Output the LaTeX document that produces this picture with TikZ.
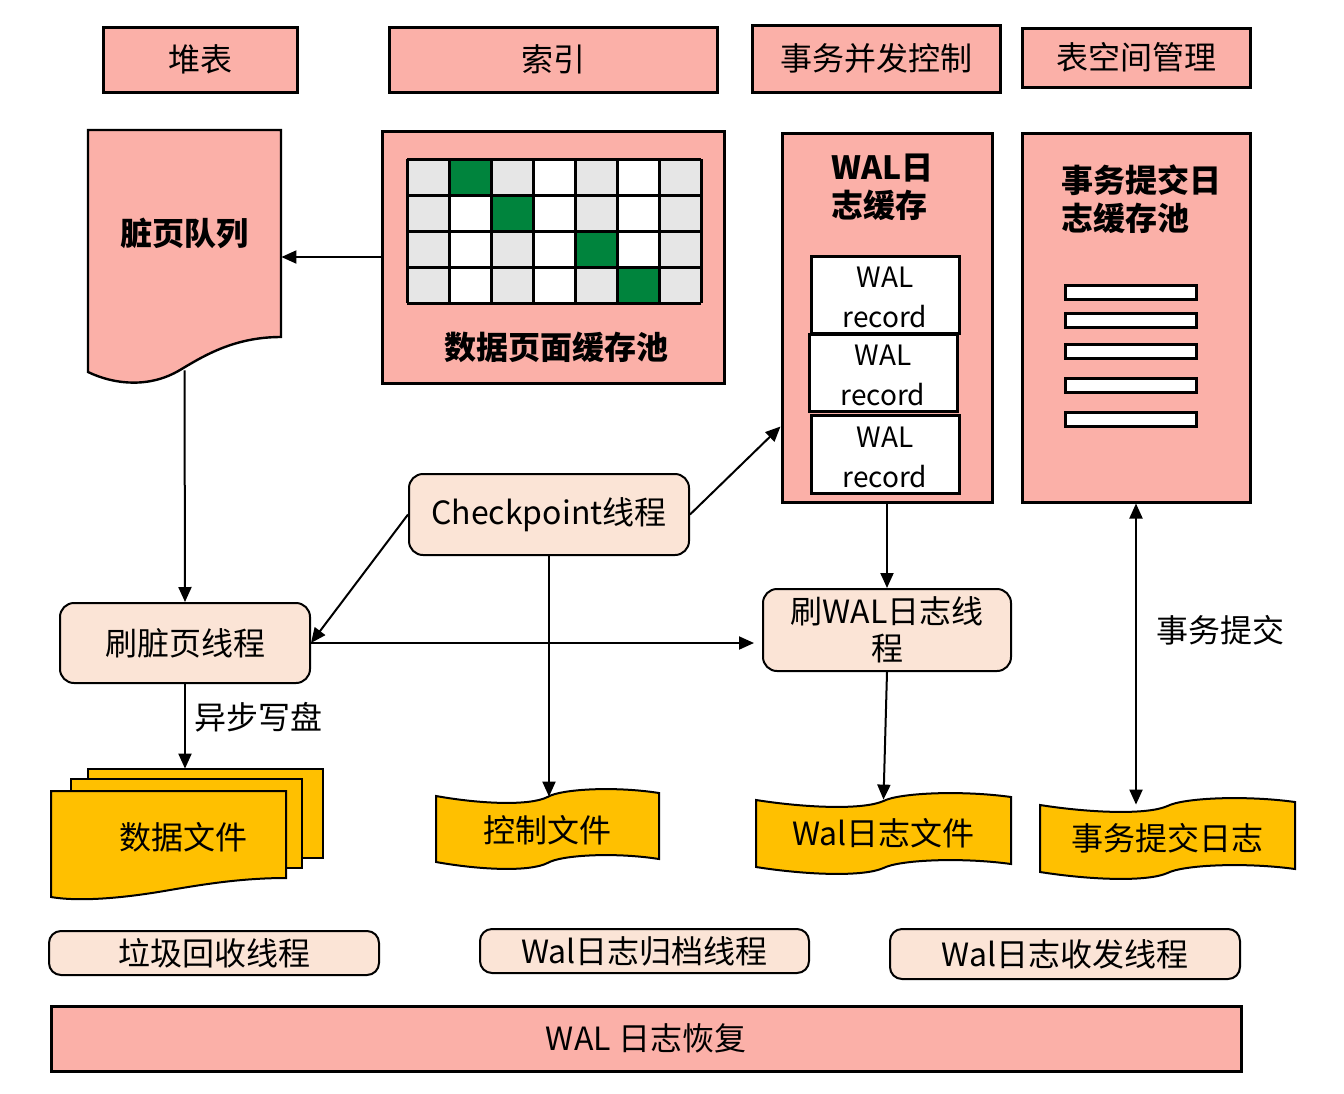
\documentclass[tikz,border=0pt]{standalone}
\usepackage{fontspec}
\setmainfont{Noto Sans CJK SC}
\usetikzlibrary{arrows.meta,fit}
\definecolor{pinkf}{RGB}{251,176,168}
\definecolor{peach}{RGB}{251,228,214}
\definecolor{gold}{RGB}{255,192,0}
\definecolor{gridgray}{RGB}{230,230,230}
\definecolor{cellgreen}{RGB}{0,132,61}
\newcommand\tapepath[4]{(#1,#2) .. controls ({#1+0.2*#3},{#2+8}) and ({#1+0.42*#3},{#2+10}) .. ({#1+0.5*#3},{#2+1}) .. controls ({#1+0.56*#3},{#2-7}) and ({#1+0.8*#3},{#2-10}) .. ({#1+#3},{#2-3}) -- ({#1+#3},{#2+#4-3}) .. controls ({#1+0.8*#3},{#2+#4-10}) and ({#1+0.56*#3},{#2+#4-7}) .. ({#1+0.5*#3},{#2+#4+1}) .. controls ({#1+0.42*#3},{#2+#4+10}) and ({#1+0.2*#3},{#2+#4+8}) .. (#1,{#2+#4}) -- cycle}
\tikzset{
 pinkbox/.style={draw, line width=1.5pt, fill=pinkf, inner sep=0pt},
 thread/.style={draw, line width=1pt, fill=peach, rounded corners=6pt, inner sep=0pt},
 ghost/.style={inner sep=0pt},
 big/.style={font=\fontsize{16}{18.5}\selectfont, align=center, inner sep=0pt},
 bigb/.style={font=\fontsize{16}{19}\selectfont\bfseries, align=left, inner sep=0pt},
 rec/.style={draw, line width=1.5pt, fill=white, inner sep=0pt},
 rect/.style={font=\fontsize{14}{20}\selectfont, align=center, inner sep=0pt},
 goldshape/.style={draw, line width=1pt, fill=gold},
 pinkshape/.style={draw, line width=1.2pt, fill=pinkf},
 bar/.style={draw, line width=1.5pt, fill=white},
 conn/.style={line width=1pt, -{Triangle[length=7.5pt,width=6.5pt]}},
 dconn/.style={line width=1pt, {Triangle[length=7.5pt,width=6.5pt]}-{Triangle[length=7.5pt,width=6.5pt]}}
}
\begin{document}
\begin{tikzpicture}[x=0.5pt,y=-0.5pt]
\useasboundingbox[fill=white] (0,0) rectangle (1344,1093);

% top row
\node[pinkbox, fit={(103,27)(297,92)}] (heap) {};
\node[big] (heapt) at (heap.center) {堆表};
\node[pinkbox, fit={(389,27)(717,92)}] (index) {};
\node[big] (indext) at (index.center) {索引};
\node[pinkbox, fit={(752,25)(1000,92)}] (txctl) {};
\node[big] (txctlt) at (txctl.center) {事务并发控制};
\node[pinkbox, fit={(1022,28)(1250,87)}] (space) {};
\node[big] (spacet) at (space.center) {表空间管理};

% dirty page queue (document shape)
\draw[pinkshape] (88,130) -- (281,130) -- (281,337) .. controls (235,337) and (205,355) .. (180,370) .. controls (150,388) and (115,385) .. (88,372) -- cycle;
\node[ghost, fit={(88,130)(281,336)}] (dirty) {};
\node[bigb] (dirtyt) at (dirty.center) {脏页队列};

% data page buffer pool
\node[pinkbox, fit={(382,131)(724,383)}] (pool) {};
\fill[gridgray] (407,159) rectangle (701,303);
\foreach \c in {1,3,5} \fill[white] ({407+42*\c},159) rectangle ({449+42*\c},303);
\fill[cellgreen] (449,159) rectangle (491,195);
\fill[cellgreen] (491,195) rectangle (533,231);
\fill[cellgreen] (575,231) rectangle (617,267);
\fill[cellgreen] (617,267) rectangle (659,303);
\foreach \c in {0,...,7} \draw[line width=1.5pt] ({407+42*\c},159) -- ({407+42*\c},303);
\foreach \r in {0,...,4} \draw[line width=1.5pt] (407,{159+36*\r}) -- (701,{159+36*\r});
\node[bigb] (pooltitle) at (556,347) {数据页面缓存池};

% WAL buffer
\node[pinkbox, fit={(782,133)(992,502)}] (walbuf) {};
\node[bigb, anchor=west] (walbuftitle) at (831,187) {WAL日\\志缓存};
\node[rec, fit={(811,256)(959,333)}] (rec1) {};
\node[rect] (rec1t) at ([yshift=-1.5pt]rec1.center) {WAL\\record};
\node[rec, fit={(809,334)(957,411)}] (rec2) {};
\node[rect] (rec2t) at ([yshift=-1.5pt]rec2.center) {WAL\\record};
\node[rec, fit={(811,415)(959,493)}] (rec3) {};
\node[rect] (rec3t) at ([yshift=-1.5pt]rec3.center) {WAL\\record};

% transaction commit log buffer pool
\node[pinkbox, fit={(1022,133)(1250,502)}] (txpool) {};
\node[bigb, anchor=west] (txpooltitle) at (1061,199) {事务提交日\\志缓存池};
\foreach \yy in {285,313,344,378,412}
  \draw[bar] (1065,\yy) rectangle (1196,{\yy+14});

% threads
\node[thread, rounded corners=7pt, fit={(409,474)(689,555)}] (ckpt) {};
\node[big] (ckptt) at (ckpt.center) {Checkpoint线程};
\node[thread, rounded corners=7pt, fit={(60,603)(310,683)}] (flush) {};
\node[big] (flusht) at (flush.center) {刷脏页线程};
\node[thread, rounded corners=7pt, fit={(763,589)(1011,671)}] (walthread) {};
\node[big] (walthreadt) at (walthread.center) {刷WAL日志线\\程};

% data files (multi-document)
\draw[goldshape] (88,769) rectangle (323,858);
\draw[goldshape] (71,779) rectangle (302,868);
\draw[goldshape] (51,791) -- (286,791) -- (286,878) .. controls (240,878) and (200,885) .. (170,890) .. controls (125,898) and (80,902) .. (51,897) -- cycle;
\node[ghost, fit={(51,769)(316,905)}] (datafile) {};
\node[big] (datafilet) at (datafile.center) {数据文件};

% tapes
\draw[goldshape] \tapepath{436}{796}{223}{66};
\node[ghost, fit={(436,797)(659,863)}] (ctrlfile) {};
\node[big] (ctrlfilet) at (ctrlfile.center) {控制文件};
\draw[goldshape] \tapepath{756}{800}{255}{67};
\node[ghost, fit={(756,800)(1011,866)}] (walfile) {};
\node[big] (walfilet) at (walfile.center) {Wal日志文件};
\draw[goldshape] \tapepath{1040}{805}{255}{67};
\node[ghost, fit={(1040,805)(1295,871)}] (txlog) {};
\node[big] (txlogt) at (txlog.center) {事务提交日志};

% bottom rows
\node[thread, fit={(49,931)(379,975)}] (gc) {};
\node[big] (gct) at (gc.center) {垃圾回收线程};
\node[thread, fit={(480,929)(809,973)}] (archive) {};
\node[big] (archivet) at (archive.center) {Wal日志归档线程};
\node[thread, fit={(890,929)(1240,979)}] (sender) {};
\node[big] (sendert) at (sender.center) {Wal日志收发线程};
\node[pinkbox, fit={(51,1006)(1241,1071)}] (recovery) {};
\node[big] (recoveryt) at (recovery.center) {WAL 日志恢复};

% connectors
\draw[conn] (pool.west) -- (pool.west -| dirty.east);
\draw[conn] ([yshift=-17pt]dirty.south) -- (flush.north);
\draw[conn] (ckpt.west) -- (flush.east);
\draw[conn] (ckpt.east) -- ([yshift=38.5pt]walbuf.south west);
\draw[conn] (ckpt.south) -- (ckpt.south |- ctrlfile.north);
\draw[conn] (flush.east) -- ([xshift=-4pt]walthread.west |- flush.east);
\draw[conn] (walbuf.south) -- (walthread.north);
\draw[conn] (walthread.south) -- (walfile.north);
\draw[conn] (flush.south) -- (flush.south |- datafile.north);
\draw[dconn] (txpool.south) -- (txpool.south |- txlog.north);

% labels
\node[big, anchor=west] (asynclabel) at (194,717) {异步写盘};
\node[big] (commitlabel) at (1220,630) {事务提交};
\end{tikzpicture}
\end{document}
